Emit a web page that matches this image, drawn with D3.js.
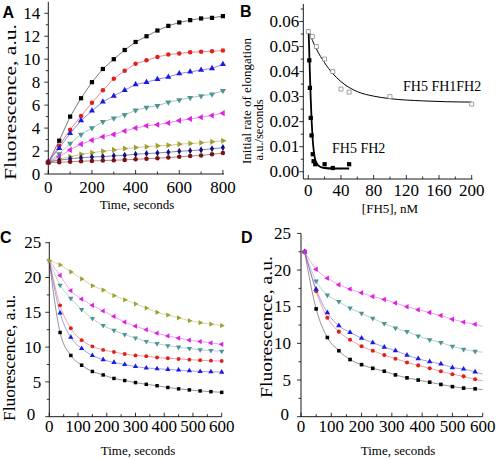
<!DOCTYPE html>
<html><head><meta charset="utf-8">
<script src="https://cdn.jsdelivr.net/npm/d3@7/dist/d3.min.js"></script>
<style>
body{margin:0;background:#fff}
svg{display:block}
</style>
</head><body>
<svg id="chart" width="498" height="459"></svg>
<script>
// ---------- Panel A data ----------
const timeA = [0,50,100,150,200,250,300,350,400,450,500,550,600,650,700,750,800];
const a1 = [1.0,2.9,5.0,6.6,8.0,9.15,10.0,10.8,11.5,12.0,12.5,12.9,13.2,13.4,13.55,13.6,13.75];
const a2 = [1.05,2.45,3.85,5.05,6.2,7.3,8.3,9.0,9.6,9.9,10.2,10.4,10.5,10.6,10.65,10.7,10.75];
const a3 = [1.05,2.25,3.55,4.65,5.5,6.3,6.8,7.3,7.8,8.0,8.25,8.45,8.75,8.9,9.05,9.2,9.55];
const a4 = [1.05,1.75,2.65,3.45,4.0,4.55,4.85,5.15,5.55,5.8,5.95,6.25,6.45,6.65,6.8,6.95,7.25];
const a5 = [1.05,1.5,2.1,2.6,2.95,3.25,3.45,3.75,4.0,4.2,4.3,4.45,4.65,4.8,4.95,5.1,5.3];
const a6 = [1.05,1.3,1.5,1.72,1.85,1.98,2.1,2.22,2.3,2.38,2.45,2.5,2.6,2.65,2.72,2.8,2.9];
const a7 = [1.05,1.2,1.32,1.42,1.48,1.52,1.58,1.63,1.72,1.78,1.83,1.9,1.98,2.03,2.1,2.2,2.3];
const a8 = [1.0,1.02,1.07,1.12,1.14,1.17,1.2,1.23,1.28,1.33,1.38,1.43,1.5,1.56,1.62,1.72,1.82];
const aTicksX = [0,200,400,600,800];
const aTicksY = [0,2,4,6,8,10,12,14];

// ---------- Panel B data ----------
const bConcFH1FH2 = [0,5,10,20,30,40,50,100,200];
const bRateFH1FH2 = [0.056,0.054,0.050,0.045,0.040,0.033,0.0318,0.030,0.027];
const bConcFH2 = [1.25,2,3,4,5.5,6.5,8.5,20,30,50];
const bRateFH2 = [0.0445,0.0335,0.0215,0.0145,0.007,0.0042,0.003,0.003,0.0015,0.003];
const bFitConcFH1FH2 = [0,5,10,20,30,40,60,80,100,140,200];
const bFitRateFH1FH2 = [0.057,0.0525,0.049,0.0435,0.0392,0.036,0.032,0.0302,0.0292,0.0283,0.0278];
const bFitConcFH2 = [0.3,1,2,3,4,5,6,8,10,15,20,30,50];
const bFitRateFH2 = [0.057,0.05,0.039,0.029,0.021,0.015,0.0105,0.0055,0.0035,0.0019,0.0015,0.0013,0.0013];
const bTicksX = [0,40,80,120,160,200];
const bTicksY = [0,0.01,0.02,0.03,0.04,0.05,0.06];
const bLabels = ["FH5 FH1FH2","FH5 FH2"];

// ---------- Panel C data ----------
const timeC = [0,37.5,75,112.5,150,187.5,225,262.5,300,337.5,375,412.5,450,487.5,525,562.5,600];
const c1 = [22.4,12.1,8.8,7.4,6.5,6.0,5.5,5.2,4.9,4.65,4.45,4.2,4.0,3.85,3.7,3.6,3.5];
const c2 = [22.4,14.9,11.4,9.8,8.8,8.2,7.8,7.5,7.2,7.0,6.9,6.8,6.7,6.6,6.5,6.45,6.4];
const c3 = [22.4,16.0,12.7,11.0,10.1,9.6,9.3,9.0,8.8,8.7,8.5,8.4,8.3,8.2,8.1,8.05,8.0];
const c4 = [22.4,18.9,17.0,15.4,14.1,13.1,12.4,11.8,11.3,10.8,10.5,10.2,10.0,9.8,9.6,9.5,9.4];
const c5 = [22.4,20.3,18.1,16.9,16.0,15.2,14.4,13.6,13.0,12.5,12.0,11.6,11.3,11.0,10.8,10.6,10.4];
const c6 = [22.4,21.8,20.8,19.8,18.8,18.2,17.4,16.8,16.2,15.6,15.0,14.6,14.2,13.8,13.5,13.3,13.1];
const cdTicksX = [0,100,200,300,400,500,600];
const cdTicksY = [0,5,10,15,20,25];

// ---------- Panel D data ----------
const timeD = [12,50,87,125,162,200,237,275,312,350,387,425,462,500,537,575];
const dS1 = [22.5,14.7,10.8,9.0,7.8,7.1,6.6,6.2,5.7,5.3,5.0,4.7,4.4,4.1,3.9,3.8];
const dS2 = [22.5,17.1,13.5,11.6,10.5,9.6,9.0,8.4,7.9,7.4,7.0,6.6,6.2,5.8,5.5,5.1];
const dS3 = [22.5,17.4,14.2,12.4,11.5,10.7,10.1,9.5,9.0,8.4,7.9,7.5,7.2,6.7,6.5,6.1];
const dS4 = [22.5,18.5,16.6,15.7,14.8,14.1,13.4,12.7,12.1,11.6,11.0,10.5,10.1,9.6,9.2,8.9];
const dS5 = [22.5,20.1,18.9,18.0,17.4,16.9,16.4,16.0,15.5,15.0,14.6,14.2,13.8,13.3,12.9,12.6];
const dLineEnd = [3.7,4.9,5.8,8.8,12.3];   // fitted curves continue to 600 s

// ---------- styling ----------
const colors = ["#000000","#e0201c","#1a1ae6","#4f9494","#e020e0","#a0a030","#10107a","#7a1010"];
const shapes = ["square","circle","up","down","left","right","diamond","circle"];
const SERIF = "'Liberation Serif','Times New Roman',Times,serif";
const SANS = "'Liberation Sans',Arial,Helvetica,sans-serif";

const svg = d3.select("#chart");

function txt(g, s, size, x, y, anchor, rotate, len){
  const t = g.append("text").text(s)
    .attr("font-family",SERIF).attr("font-size",size).attr("fill","#000")
    .attr("text-anchor",anchor||"start");
  if(rotate) t.attr("transform",`translate(${x},${y}) rotate(-90)`);
  else t.attr("x",x).attr("y",y);
  if(len) t.attr("textLength",len).attr("lengthAdjust","spacingAndGlyphs");
  return t;
}
function panelLetter(g, s, x, y){
  g.append("text").text(s).attr("x",x).attr("y",y)
    .attr("font-family",SANS).attr("font-weight","bold").attr("font-size",16).attr("fill","#000");
}

function marker(shape, size){
  let t = d3.symbolTriangle, rot = 0, s = size;
  if(shape==="square"){t=d3.symbolSquare;}
  else if(shape==="circle"){t=d3.symbolCircle;}
  else if(shape==="diamond"){t=d3.symbolDiamond; s=size*0.9;}
  else if(shape==="down"){rot=180;}
  else if(shape==="left"){rot=-90;}
  else if(shape==="right"){rot=90;}
  return {path:d3.symbol().type(t).size(s)(), rot};
}

function drawAxes(g, x, y, o){
  const [x0,x1] = x.range(), [y0,y1] = y.range();
  g.append("line").attr("x1",x0).attr("x2",x0).attr("y1",y0).attr("y2",y1).attr("stroke","#000").attr("stroke-width",0.9);
  g.append("line").attr("x1",x0).attr("x2",x1).attr("y1",y0).attr("y2",y0).attr("stroke","#000").attr("stroke-width",0.9);
  o.yMinor.forEach(v=>g.append("line").attr("x1",x0).attr("x2",x0-2.5).attr("y1",y(v)).attr("y2",y(v)).attr("stroke","#000").attr("stroke-width",0.8));
  o.yTicks.forEach(v=>{
    g.append("line").attr("x1",x0).attr("x2",x0-4).attr("y1",y(v)).attr("y2",y(v)).attr("stroke","#000").attr("stroke-width",0.8);
    txt(g, o.yFmt(v), o.ySize, x0-o.yGap-(v===0?o.zeroShift||0:0), y(v)+o.ySize*0.33-(v===0?o.zeroRaise||0:0), "end");
  });
  o.xMinor.forEach(v=>g.append("line").attr("x1",x(v)).attr("x2",x(v)).attr("y1",y0).attr("y2",y0-2.5).attr("stroke","#000").attr("stroke-width",0.8));
  o.xTicks.forEach(v=>{
    g.append("line").attr("x1",x(v)).attr("x2",x(v)).attr("y1",y0).attr("y2",y0-4).attr("stroke","#000").attr("stroke-width",0.8);
    txt(g, o.xFmt(v), o.xSize, x(v), o.xBase, "middle");
  });
}

function drawMarkers(g, xs, ys, x, y, color, shape, size, fill){
  const m = marker(shape,size);
  xs.forEach((t,i)=>{
    g.append("path").attr("d",m.path)
      .attr("transform",`translate(${x(t)},${y(ys[i])}) rotate(${m.rot})`)
      .attr("fill",fill||color).attr("stroke",fill?color:"none").attr("stroke-width",0.8);
  });
}

// ================= Panel A =================
{
  const g = svg.append("g");
  const x = d3.scaleLinear().domain([0,805]).range([48.3,224]);
  const y = d3.scaleLinear().domain([0,15]).range([174,1.8]);
  drawAxes(g,x,y,{yTicks:aTicksY,yMinor:d3.range(1,15,2),xTicks:aTicksX,xMinor:[100,300,500,700],
    yGap:8,ySize:17,yFmt:d=>d,xBase:193,xSize:17,xFmt:d=>d});
  const series = [a1,a2,a3,a4,a5,a6,a7,a8];
  const line = d3.line().x((d,i)=>x(timeA[i])).y(d=>y(d));
  series.forEach((s,k)=>{
    g.append("path").attr("d",line(s)).attr("fill","none").attr("stroke",colors[k]).attr("stroke-width",0.7).attr("opacity",0.75);
  });
  series.forEach((s,k)=>drawMarkers(g,timeA,s,x,y,colors[k],shapes[k],k===0?18:16));
  txt(g,"Fluorescence, a.u.",17,16,102,"middle",true,156);
  txt(g,"Time, seconds",13,137,209,"middle");
  panelLetter(g,"A",2.5,18);
}

// ================= Panel B =================
{
  const g = svg.append("g");
  const x = d3.scaleLinear().domain([-6.1,201]).range([303.3,472.5]);
  const y = d3.scaleLinear().domain([-0.0029,0.067]).range([179,4]);
  drawAxes(g,x,y,{yTicks:bTicksY,yMinor:[0.005,0.015,0.025,0.035,0.045,0.055,0.065],xTicks:bTicksX,xMinor:[20,60,100,140,180],
    yGap:4,ySize:17,yFmt:d=>d.toFixed(2),xBase:196,xSize:17,xFmt:d=>d});
  const line = d3.line().curve(d3.curveMonotoneX).x(d=>x(d[0])).y(d=>y(d[1]));
  g.append("path").attr("d",line(bFitConcFH1FH2.map((c,i)=>[c,bFitRateFH1FH2[i]]))).attr("fill","none").attr("stroke","#000").attr("stroke-width",1);
  g.append("path").attr("d",line(bFitConcFH2.map((c,i)=>[c,bFitRateFH2[i]]))).attr("fill","none").attr("stroke","#000").attr("stroke-width",1.8);
  drawMarkers(g,bConcFH1FH2,bRateFH1FH2,x,y,"#8a8a8a","square",16,"#fff");
  drawMarkers(g,bConcFH2,bRateFH2,x,y,"#000","square",18);
  txt(g,bLabels[0],14,403,91);
  txt(g,bLabels[1],14,332,153);
  txt(g,"Initial rate of elongation",13,251,101,"middle",true);
  txt(g,"a.u./seconds",12.5,263,130,"middle",true);
  txt(g,"[FH5], nM",13,390,213,"middle");
  panelLetter(g,"B",240,17);
}

// ================= Panel C =================
{
  const g = svg.append("g");
  const x = d3.scaleLinear().domain([0,600]).range([49.3,221.7]);
  const y = d3.scaleLinear().domain([0,25.1]).range([416.7,242]);
  drawAxes(g,x,y,{yTicks:cdTicksY,yMinor:[2.5,7.5,12.5,17.5,22.5],xTicks:cdTicksX,xMinor:[50,150,250,350,450,550],
    yGap:8,ySize:17,yFmt:d=>d,xBase:432,xSize:17,xFmt:d=>d,zeroShift:6,zeroRaise:2});
  const series = [c1,c2,c3,c4,c5,c6];
  const cCols = [colors[0],colors[2],colors[1],colors[3],colors[4],colors[5]];
  const cShapes = ["square","up","circle","down","left","right"];
  const line = d3.line().curve(d3.curveMonotoneX).x((d,i)=>x(timeC[i])).y(d=>y(d));
  series.forEach((s,k)=>g.append("path").attr("d",line(s)).attr("fill","none").attr("stroke",cCols[k]).attr("stroke-width",0.7).attr("opacity",0.6));
  series.forEach((s,k)=>drawMarkers(g,timeC.slice(1),s.slice(1),x,y,cCols[k],cShapes[k],12));
  drawMarkers(g,[timeC[0]],[c6[0]],x,y,colors[5],"right",14);
  txt(g,"Fluorescence, a.u.",16,15,358,"middle",true,126);
  txt(g,"Time, seconds",13,138,455,"middle");
  panelLetter(g,"C",0,243);
}

// ================= Panel D =================
{
  const g = svg.append("g");
  const x = d3.scaleLinear().domain([0,600]).range([301,482.7]);
  const y = d3.scaleLinear().domain([0,25]).range([416.7,233.4]);
  drawAxes(g,x,y,{yTicks:cdTicksY,yMinor:[2.5,7.5,12.5,17.5,22.5],xTicks:cdTicksX,xMinor:[50,150,250,350,450,550],
    yGap:10,ySize:17,yFmt:d=>d,xBase:432,xSize:17,xFmt:d=>d,zeroShift:2,zeroRaise:2});
  const series = [dS1,dS2,dS3,dS4,dS5];
  const dCols = [colors[0],colors[1],colors[2],colors[3],colors[4]];
  const dShapes = ["square","circle","up","down","left"];
  const line = d3.line().curve(d3.curveMonotoneX).x(d=>x(d[0])).y(d=>y(d[1]));
  series.forEach((s,k)=>{
    const pts = timeD.map((t,i)=>[t,s[i]]).concat([[600,dLineEnd[k]]]);
    g.append("path").attr("d",line(pts)).attr("fill","none").attr("stroke",dCols[k]).attr("stroke-width",0.7).attr("opacity",0.6);
  });
  series.forEach((s,k)=>drawMarkers(g,timeD,s,x,y,dCols[k],dShapes[k],13));
  txt(g,"Fluorescence, a.u.",17.5,272,327,"middle",true,142);
  txt(g,"Time, seconds",13,398,455,"middle");
  panelLetter(g,"D",241,243);
}
</script>
</body></html>
